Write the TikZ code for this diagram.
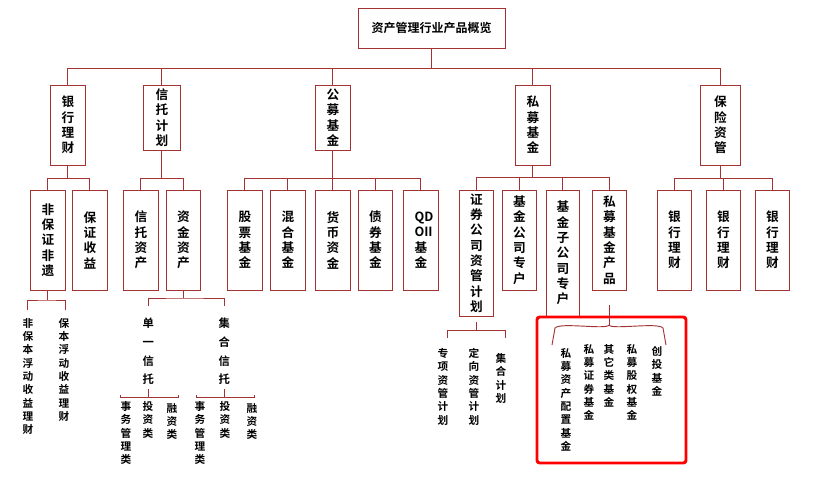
\documentclass[tikz,border=0pt]{standalone}
\usepackage{fontspec}
\setmainfont{Noto Sans CJK SC Bold}
\XeTeXlinebreaklocale "zh"
\XeTeXlinebreakskip=0pt plus 1pt
\begin{document}
\begin{tikzpicture}[x=0.75pt,y=-0.75pt,
  ln/.style={draw=red!55!black!80, line width=0.7pt},
  bx/.style={ln, fill=white, inner sep=0pt, font=\fontsize{9.5}{11.5}\selectfont, align=center},
  vt/.style={inner sep=0pt, text width=9pt, align=center, font=\fontsize{9.5}{11.5}\selectfont},
  st/.style={inner sep=0pt, text width=8pt, align=center, anchor=north, font=\fontsize{8}{10}\selectfont}]
\useasboundingbox (0,0) rectangle (831,476);
\newcommand\bx[6]{\node[bx, minimum width={(#4-#2)*0.75pt}, minimum height={(#5-#3)*0.75pt}] (#1) at ({(#2+#4)/2},{(#3+#5)/2}) {\begin{tabular}{@{}c@{}}\parbox{9pt}{\centering #6}\end{tabular}};}
% root
\node[bx, minimum width=110.25pt, minimum height=30pt, font=\fontsize{9}{11}\selectfont] (root) at (431.5,28) {资产管理行业产品概览};
% level 1
\bx{a}{50}{85}{85}{165}{银行理财}
\bx{b}{143}{85}{180}{150}{信托计划}
\bx{c}{315}{85}{350}{150}{公募基金}
\bx{d}{515}{85}{550}{165}{私募基金}
\bx{e}{700}{85}{740}{165}{保险资管}
\foreach \n in {a,b,c,d,e} \draw[ln] (root.south) -- (root.south |- 0,68) -| (\n.north);
% level 2
\bx{a1}{30}{190}{65}{290}{非保证非遗}
\bx{a2}{72}{190}{107}{290}{保证收益}
\bx{b1}{123}{190}{158}{290}{信托资产}
\bx{b2}{166}{190}{200}{290}{资金资产}
\bx{c1}{227}{190}{262}{290}{股票基金}
\bx{c2}{270}{190}{305}{290}{混合基金}
\bx{c3}{315}{190}{350}{290}{货币资金}
\bx{c4}{358}{190}{392}{290}{债券基金}
\bx{c5}{403}{190}{438}{290}{QD\\OII\\基金}
\bx{d1}{459}{190}{493}{316}{证券公司资管计划}
\bx{d2}{502}{190}{536}{290}{基金公司专户}
\bx{d3}{546}{190}{579}{316}{基金子公司专户}
\bx{d4}{592}{190}{626}{290}{私募基金产品}
\bx{e1}{657}{190}{691}{290}{银行理财}
\bx{e2}{706}{190}{740}{290}{银行理财}
\bx{e3}{755}{190}{789}{290}{银行理财}
\foreach \n in {a1,a2} \draw[ln] (a.south) -- (a.south |- 0,178) -| (\n.north);
\foreach \n in {b1,b2} \draw[ln] (b.south) -- (b.south |- 0,178) -| (\n.north);
\foreach \n in {c1,c2,c3,c4,c5} \draw[ln] (c.south) -- (c.south |- 0,178) -| (\n.north);
\foreach \n in {d1,d2,d3,d4} \draw[ln] (d.south) -- (d.south |- 0,177) -| (\n.north);
\foreach \n in {e1,e2,e3} \draw[ln] (e.south) -- (e.south |- 0,178) -| (\n.north);
% red highlight
\draw[red, line width=2.2pt, rounded corners=2pt] (537,317) rectangle (686,463);
% level 3 bank
\coordinate (ka1) at (27,310); \coordinate (ka2) at (65,310);
\node[st] (t1) at (28,318) {非保本浮动收益理财};
\node[st] (t2) at (64,318) {保本浮动收益理财};
\draw[ln] (a1.south) -- (a1.south |- 0,300); \draw[ln] (ka1) |- (a1.south |- 0,300) -| (ka2);
% trust
\coordinate (kb1) at (148,306); \coordinate (kb2) at (224,306);
\draw[ln] (b2.south) -- (b2.south |- 0,298); \draw[ln] (kb1) |- (b2.south |- 0,298) -| (kb2);
\node[st, font=\fontsize{8.5}{14}\selectfont] (s1) at (148,318) {单一信托};
\node[st, font=\fontsize{8.5}{14}\selectfont] (s2) at (224,318) {集合信托};
\coordinate (j1) at (120,395); \coordinate (j2) at (178,395);
\draw[ln] (s1.south) ++(0,4) -- ++(0,8) coordinate (m1); \draw[ln] (j1) |- (m1) -| (j2);
\coordinate (j3) at (196,395); \coordinate (j4) at (254,395);
\draw[ln] (s2.south) ++(0,4) -- ++(0,8) coordinate (m2); \draw[ln] (j3) |- (m2) -| (j4);
\node[st] (u1) at (126,401) {事务管理类};
\node[st] (u2) at (148,401) {投资类};
\node[st] (u3) at (172,403) {融资类};
\node[st] (u4) at (200,401) {事务管理类};
\node[st] (u5) at (225,401) {投资类};
\node[st] (u6) at (252,403) {融资类};
% securities
\coordinate (k1) at (447,338); \coordinate (k2) at (505,338);
\draw[ln] (d1.south) ++(0,6) -- (d1.south |- 0,330); \draw[ln] (k1) |- (d1.south |- 0,330) -| (k2);
\node[st] (v1) at (443,348) {专项资管计划};
\node[st] (v2) at (474,348) {定向资管计划};
\node[st] (v3) at (501,353) {集合计划};
% private fund
\coordinate (pm) at (609,325);
\draw[ln] (609,305) -- (pm);
\draw[ln] (pm) .. controls (607,330) and (560,322) .. (555,328) -- (552,345);
\draw[ln] (pm) .. controls (611,330) and (658,322) .. (663,328) -- (666,345);
\node[st] (w1) at (566,348) {私募资产配置基金};
\node[st] (w2) at (589,344) {私募证券基金};
\node[st] (w3) at (609,344) {其它类基金};
\node[st] (w4) at (632,344) {私募股权基金};
\node[st] (w5) at (657,346) {创投基金};
\end{tikzpicture}
\end{document}
